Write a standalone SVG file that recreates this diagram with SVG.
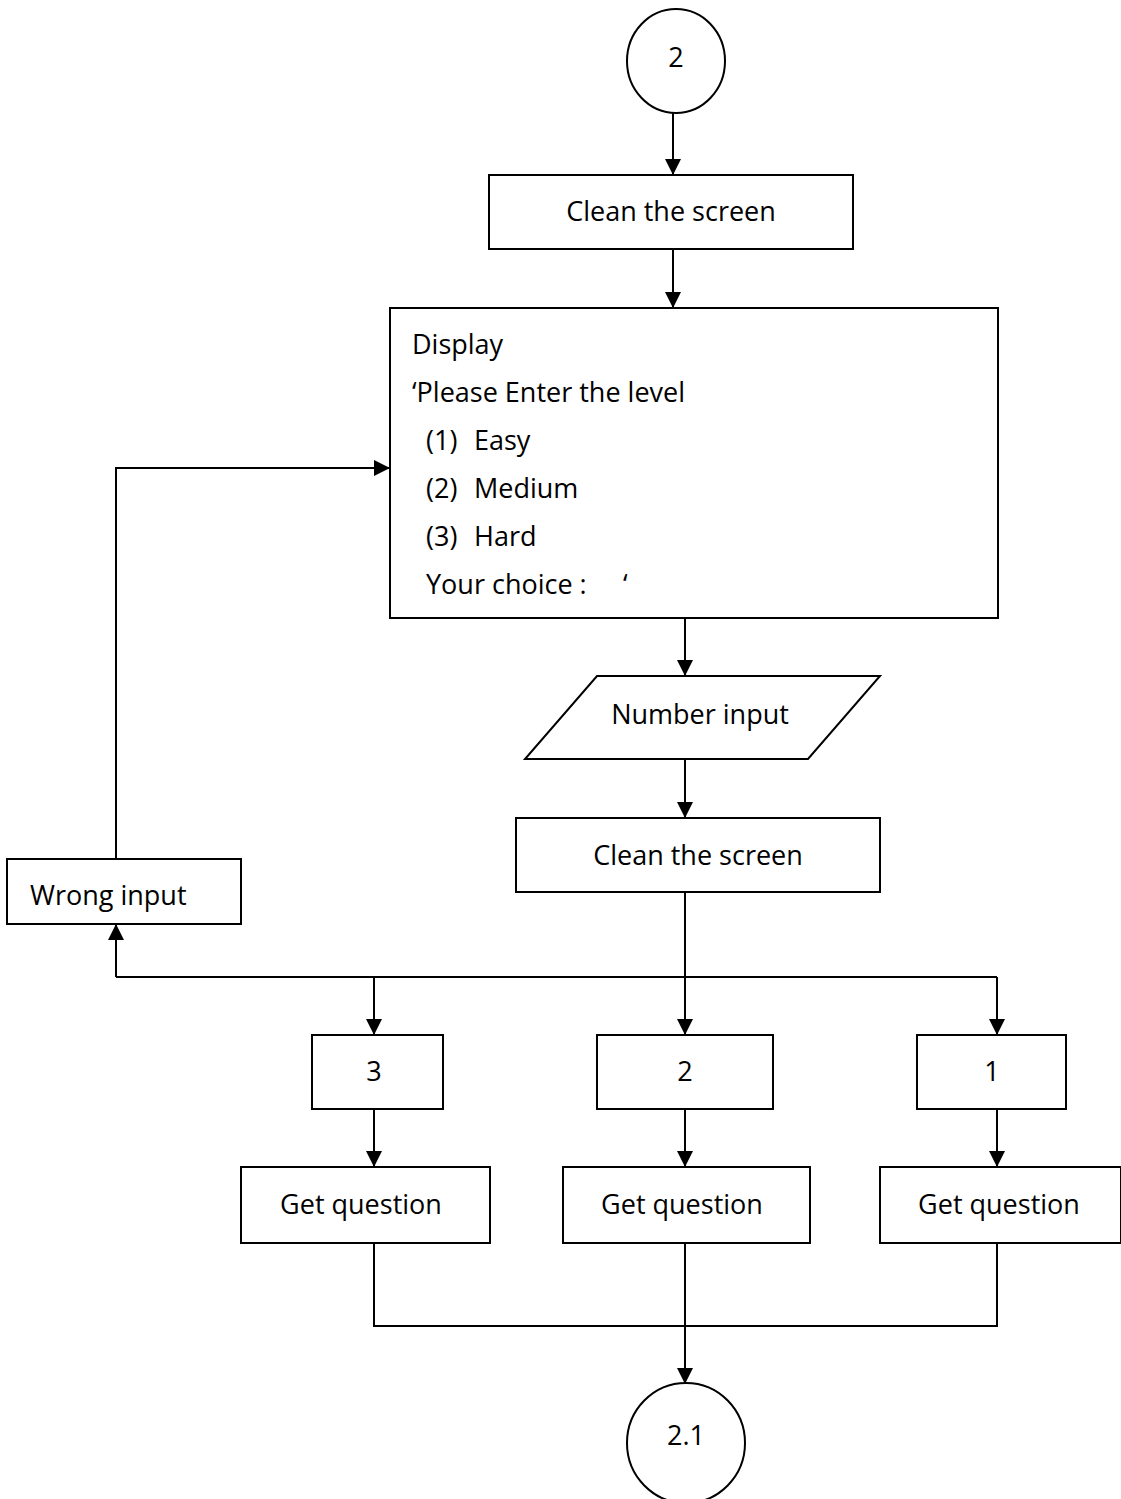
<svg xmlns="http://www.w3.org/2000/svg" width="1121" height="1499" viewBox="0 0 1121 1499">
  <style>
    .box { fill: #ffffff; stroke: #000000; stroke-width: 2; }
    .lbl { font-family: "Open Sans", "Noto Sans", sans-serif; font-size: 27px; fill: #000000; }
    .mid { text-anchor: middle; }
    .wire { fill: none; stroke: #000000; stroke-width: 2; }
  </style>
  <defs>
    <marker id="arrow" markerUnits="userSpaceOnUse" markerWidth="16" markerHeight="16" viewBox="0 0 16 16" refX="16" refY="8" orient="auto">
      <path d="M0,0 L16,8 L0,16 Z" fill="#000000"/>
    </marker>
  </defs>

  <!-- connectors -->
  <g id="connectors">
    <line class="wire" x1="673" y1="113" x2="673" y2="175" marker-end="url(#arrow)"/>
    <line class="wire" x1="673" y1="249" x2="673" y2="308" marker-end="url(#arrow)"/>
    <line class="wire" x1="685" y1="618" x2="685" y2="676" marker-end="url(#arrow)"/>
    <line class="wire" x1="685" y1="759" x2="685" y2="818" marker-end="url(#arrow)"/>
    <line class="wire" x1="685" y1="892" x2="685" y2="1035" marker-end="url(#arrow)"/>
    <line class="wire" x1="116" y1="977" x2="997" y2="977"/>
    <line class="wire" x1="116" y1="977" x2="116" y2="924" marker-end="url(#arrow)"/>
    <polyline class="wire" points="116,859 116,468 390,468" marker-end="url(#arrow)"/>
    <line class="wire" x1="374" y1="977" x2="374" y2="1035" marker-end="url(#arrow)"/>
    <line class="wire" x1="997" y1="977" x2="997" y2="1035" marker-end="url(#arrow)"/>
    <line class="wire" x1="374" y1="1109" x2="374" y2="1167" marker-end="url(#arrow)"/>
    <line class="wire" x1="685" y1="1109" x2="685" y2="1167" marker-end="url(#arrow)"/>
    <line class="wire" x1="997" y1="1109" x2="997" y2="1167" marker-end="url(#arrow)"/>
    <polyline class="wire" points="374,1243 374,1326 997,1326 997,1243"/>
    <line class="wire" x1="685" y1="1243" x2="685" y2="1384" marker-end="url(#arrow)"/>
  </g>

  <g id="start">
    <ellipse class="box" cx="676" cy="61" rx="49" ry="52"/>
    <text class="lbl mid" x="676" y="67">2</text>
  </g>

  <g id="clear1">
    <rect class="box" x="489" y="175" width="364" height="74"/>
    <text class="lbl mid" x="671" y="221">Clean the screen</text>
  </g>

  <g id="menu">
    <rect class="box" x="390" y="308" width="608" height="310"/>
    <text class="lbl" x="412" y="354">Display</text>
    <text class="lbl" x="412" y="402">‘Please Enter the level</text>
    <text class="lbl" x="426" y="450">(1)</text>
    <text class="lbl" x="474" y="450">Easy</text>
    <text class="lbl" x="426" y="498">(2)</text>
    <text class="lbl" x="474" y="498">Medium</text>
    <text class="lbl" x="426" y="546">(3)</text>
    <text class="lbl" x="474" y="546">Hard</text>
    <text class="lbl" x="426" y="594">Your choice :</text>
    <text class="lbl" x="623" y="594">‘</text>
  </g>

  <g id="read">
    <polygon class="box" points="597,676 880,676 808,759 525,759"/>
    <text class="lbl mid" x="700" y="724">Number input</text>
  </g>

  <g id="clear2">
    <rect class="box" x="516" y="818" width="364" height="74"/>
    <text class="lbl mid" x="698" y="865">Clean the screen</text>
  </g>

  <g id="wrong">
    <rect class="box" x="7" y="859" width="234" height="65"/>
    <text class="lbl" x="30" y="905">Wrong input</text>
  </g>

  <g id="opt3">
    <rect class="box" x="312" y="1035" width="131" height="74"/>
    <text class="lbl mid" x="374" y="1081">3</text>
  </g>
  <g id="opt2">
    <rect class="box" x="597" y="1035" width="176" height="74"/>
    <text class="lbl mid" x="685" y="1081">2</text>
  </g>
  <g id="opt1">
    <rect class="box" x="917" y="1035" width="149" height="74"/>
    <text class="lbl mid" x="992" y="1081">1</text>
  </g>

  <g id="get3">
    <rect class="box" x="241" y="1167" width="249" height="76"/>
    <text class="lbl mid" x="361" y="1214">Get question</text>
  </g>
  <g id="get2">
    <rect class="box" x="563" y="1167" width="247" height="76"/>
    <text class="lbl mid" x="682" y="1214">Get question</text>
  </g>
  <g id="get1">
    <rect class="box" x="880" y="1167" width="241" height="76"/>
    <text class="lbl mid" x="999" y="1214">Get question</text>
  </g>

  <g id="next">
    <ellipse class="box" cx="686" cy="1443" rx="59" ry="60"/>
    <text class="lbl mid" x="686" y="1445">2.1</text>
  </g>
</svg>
